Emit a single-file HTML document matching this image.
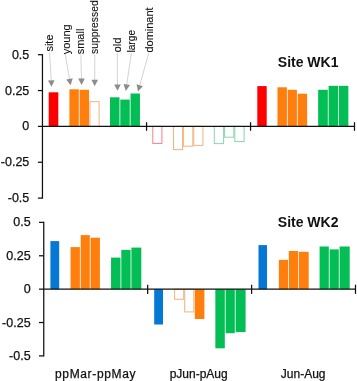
<!DOCTYPE html>
<html><head><meta charset="utf-8"><title>Chart</title>
<style>
html,body{margin:0;padding:0;background:#fff;}
body{width:357px;height:381px;overflow:hidden;}
svg{display:block;will-change:transform;}
text{font-family:"Liberation Sans",sans-serif;fill:#111;stroke:#111;stroke-width:0.25px;}
</style></head><body>
<svg width="357" height="381" viewBox="0 0 357 381">
<rect x="0" y="0" width="357" height="381" fill="#fff"/>
<rect x="48.70" y="92.30" width="9.60" height="34.10" fill="#FF0000"/>
<rect x="69.40" y="89.30" width="9.40" height="37.10" fill="#FF7F0E"/>
<rect x="79.60" y="89.80" width="9.45" height="36.60" fill="#FF7F0E"/>
<rect x="89.95" y="101.70" width="9.15" height="24.70" fill="none" stroke="#EFB47C" stroke-width="1.0"/>
<rect x="110.00" y="97.30" width="9.50" height="29.10" fill="#02BE55"/>
<rect x="120.30" y="99.60" width="9.45" height="26.80" fill="#02BE55"/>
<rect x="130.55" y="93.50" width="9.40" height="32.90" fill="#02BE55"/>
<rect x="152.80" y="126.40" width="9.10" height="17.00" fill="none" stroke="#F47F89" stroke-width="1.0"/>
<rect x="173.50" y="126.40" width="9.10" height="23.20" fill="none" stroke="#EFB47C" stroke-width="1.0"/>
<rect x="183.60" y="126.40" width="9.20" height="19.80" fill="none" stroke="#EFB47C" stroke-width="1.0"/>
<rect x="193.80" y="126.40" width="9.10" height="19.00" fill="none" stroke="#EFB47C" stroke-width="1.0"/>
<rect x="214.30" y="126.40" width="9.30" height="17.20" fill="none" stroke="#86D8AE" stroke-width="1.0"/>
<rect x="224.60" y="126.40" width="9.20" height="10.80" fill="none" stroke="#86D8AE" stroke-width="1.0"/>
<rect x="234.80" y="126.40" width="9.30" height="15.20" fill="none" stroke="#86D8AE" stroke-width="1.0"/>
<rect x="257.30" y="86.10" width="9.40" height="40.30" fill="#FF0000"/>
<rect x="277.45" y="87.30" width="9.45" height="39.10" fill="#FF7F0E"/>
<rect x="287.70" y="89.80" width="9.20" height="36.60" fill="#FF7F0E"/>
<rect x="297.70" y="93.70" width="9.45" height="32.70" fill="#FF7F0E"/>
<rect x="318.15" y="89.80" width="9.65" height="36.60" fill="#02BE55"/>
<rect x="328.60" y="85.80" width="9.40" height="40.60" fill="#02BE55"/>
<rect x="338.80" y="85.80" width="9.55" height="40.60" fill="#02BE55"/>
<line x1="37.90" y1="54.70" x2="42.45" y2="54.70" stroke="#111" stroke-width="1.25" stroke-linecap="butt"/>
<line x1="37.90" y1="90.55" x2="42.45" y2="90.55" stroke="#111" stroke-width="1.25" stroke-linecap="butt"/>
<line x1="37.90" y1="126.40" x2="42.45" y2="126.40" stroke="#111" stroke-width="1.25" stroke-linecap="butt"/>
<line x1="37.90" y1="162.25" x2="42.45" y2="162.25" stroke="#111" stroke-width="1.25" stroke-linecap="butt"/>
<line x1="37.90" y1="198.10" x2="42.45" y2="198.10" stroke="#111" stroke-width="1.25" stroke-linecap="butt"/>
<line x1="42.45" y1="54.10" x2="42.45" y2="198.70" stroke="#111" stroke-width="1.25" stroke-linecap="butt"/>
<line x1="42.45" y1="126.40" x2="354.50" y2="126.40" stroke="#111" stroke-width="1.25" stroke-linecap="butt"/>
<line x1="146.55" y1="122.20" x2="146.55" y2="130.80" stroke="#111" stroke-width="1.25" stroke-linecap="butt"/>
<line x1="250.55" y1="122.20" x2="250.55" y2="130.80" stroke="#111" stroke-width="1.25" stroke-linecap="butt"/>
<line x1="354.50" y1="122.20" x2="354.50" y2="130.80" stroke="#111" stroke-width="1.25" stroke-linecap="butt"/>
<text x="29.30" y="58.70" font-size="12.5" text-anchor="end" font-weight="normal" >0.5</text>
<text x="29.30" y="94.55" font-size="12.5" text-anchor="end" font-weight="normal" >0.25</text>
<text x="29.30" y="130.40" font-size="12.5" text-anchor="end" font-weight="normal" >0</text>
<text x="29.30" y="166.25" font-size="12.5" text-anchor="end" font-weight="normal" >-0.25</text>
<text x="29.30" y="202.10" font-size="12.5" text-anchor="end" font-weight="normal" >-0.5</text>
<text x="277.80" y="66.60" font-size="14" text-anchor="start" font-weight="bold" style="stroke-width:0">Site WK1</text>
<line x1="49.60" y1="52.30" x2="51.26" y2="80.91" stroke="#C4C4C4" stroke-width="0.75" stroke-linecap="butt"/>
<polygon points="51.60,86.80 47.94,80.60 54.52,80.22" fill="#8C8C8C"/>
<line x1="65.20" y1="54.00" x2="69.59" y2="79.39" stroke="#C4C4C4" stroke-width="0.75" stroke-linecap="butt"/>
<polygon points="70.60,85.20 66.26,79.46 72.76,78.33" fill="#8C8C8C"/>
<line x1="80.90" y1="54.50" x2="81.46" y2="79.00" stroke="#C4C4C4" stroke-width="0.75" stroke-linecap="butt"/>
<polygon points="81.60,84.90 78.15,78.58 84.75,78.43" fill="#8C8C8C"/>
<line x1="94.80" y1="54.50" x2="94.72" y2="80.30" stroke="#C4C4C4" stroke-width="0.75" stroke-linecap="butt"/>
<polygon points="94.70,86.20 91.42,79.79 98.02,79.81" fill="#8C8C8C"/>
<line x1="117.30" y1="52.80" x2="117.47" y2="84.90" stroke="#C4C4C4" stroke-width="0.75" stroke-linecap="butt"/>
<polygon points="117.50,90.80 114.17,84.42 120.77,84.38" fill="#8C8C8C"/>
<line x1="131.40" y1="52.80" x2="126.66" y2="85.06" stroke="#C4C4C4" stroke-width="0.75" stroke-linecap="butt"/>
<polygon points="125.80,90.90 123.47,84.09 130.00,85.05" fill="#8C8C8C"/>
<line x1="148.90" y1="52.60" x2="139.60" y2="85.72" stroke="#C4C4C4" stroke-width="0.75" stroke-linecap="butt"/>
<polygon points="138.00,91.40 136.55,84.35 142.91,86.13" fill="#8C8C8C"/>
<text x="0" y="0" font-size="11" style="stroke-width:0.1px" transform="translate(53.20,51.60) rotate(-90)">site</text>
<text x="0" y="0" font-size="11" style="stroke-width:0.1px" transform="translate(69.90,54.30) rotate(-90)">young</text>
<text x="0" y="0" font-size="11" style="stroke-width:0.1px" transform="translate(84.20,54.30) rotate(-90)">small</text>
<text x="0" y="0" font-size="10.4" style="stroke-width:0.1px" transform="translate(97.50,54.00) rotate(-90)">suppressed</text>
<text x="0" y="0" font-size="11.3" style="stroke-width:0.1px" transform="translate(121.30,52.50) rotate(-90)">old</text>
<text x="0" y="0" font-size="10.2" style="stroke-width:0.1px" transform="translate(134.60,52.60) rotate(-90)">large</text>
<text x="0" y="0" font-size="11" style="stroke-width:0.1px" transform="translate(153.10,52.60) rotate(-90)">dominant</text>
<rect x="50.40" y="241.10" width="8.80" height="48.10" fill="#0577D5"/>
<rect x="70.55" y="247.10" width="9.35" height="42.10" fill="#FF7F0E"/>
<rect x="80.70" y="235.10" width="9.10" height="54.10" fill="#FF7F0E"/>
<rect x="90.60" y="237.70" width="9.30" height="51.50" fill="#FF7F0E"/>
<rect x="111.05" y="257.60" width="9.45" height="31.60" fill="#02BE55"/>
<rect x="121.30" y="249.90" width="9.30" height="39.30" fill="#02BE55"/>
<rect x="131.40" y="247.60" width="9.90" height="41.60" fill="#02BE55"/>
<rect x="154.20" y="289.20" width="8.80" height="35.30" fill="#0577D5"/>
<rect x="174.60" y="289.20" width="9.10" height="10.10" fill="none" stroke="#EFB47C" stroke-width="1.0"/>
<rect x="184.70" y="289.20" width="9.10" height="22.70" fill="none" stroke="#EFB47C" stroke-width="1.0"/>
<rect x="194.80" y="289.20" width="9.60" height="29.80" fill="#FF7F0E"/>
<rect x="215.35" y="289.20" width="9.45" height="59.10" fill="#02BE55"/>
<rect x="225.60" y="289.20" width="9.20" height="44.00" fill="#02BE55"/>
<rect x="235.60" y="289.20" width="10.00" height="42.80" fill="#02BE55"/>
<rect x="258.50" y="245.10" width="8.50" height="44.10" fill="#0577D5"/>
<rect x="278.85" y="259.90" width="9.15" height="29.30" fill="#FF7F0E"/>
<rect x="288.80" y="251.00" width="9.30" height="38.20" fill="#FF7F0E"/>
<rect x="298.90" y="251.80" width="9.80" height="37.40" fill="#FF7F0E"/>
<rect x="319.60" y="246.50" width="9.20" height="42.70" fill="#02BE55"/>
<rect x="329.60" y="249.40" width="9.20" height="39.80" fill="#02BE55"/>
<rect x="339.60" y="246.50" width="10.10" height="42.70" fill="#02BE55"/>
<line x1="39.00" y1="222.40" x2="43.75" y2="222.40" stroke="#111" stroke-width="1.25" stroke-linecap="butt"/>
<line x1="39.00" y1="255.78" x2="43.75" y2="255.78" stroke="#111" stroke-width="1.25" stroke-linecap="butt"/>
<line x1="39.00" y1="289.15" x2="43.75" y2="289.15" stroke="#111" stroke-width="1.25" stroke-linecap="butt"/>
<line x1="39.00" y1="322.53" x2="43.75" y2="322.53" stroke="#111" stroke-width="1.25" stroke-linecap="butt"/>
<line x1="39.00" y1="355.90" x2="43.75" y2="355.90" stroke="#111" stroke-width="1.25" stroke-linecap="butt"/>
<line x1="43.75" y1="221.80" x2="43.75" y2="356.50" stroke="#111" stroke-width="1.25" stroke-linecap="butt"/>
<line x1="43.75" y1="289.20" x2="355.50" y2="289.20" stroke="#111" stroke-width="1.25" stroke-linecap="butt"/>
<line x1="147.65" y1="284.70" x2="147.65" y2="293.90" stroke="#111" stroke-width="1.25" stroke-linecap="butt"/>
<line x1="251.60" y1="284.70" x2="251.60" y2="293.90" stroke="#111" stroke-width="1.25" stroke-linecap="butt"/>
<line x1="355.50" y1="284.70" x2="355.50" y2="293.90" stroke="#111" stroke-width="1.25" stroke-linecap="butt"/>
<text x="30.60" y="226.40" font-size="12.5" text-anchor="end" font-weight="normal" >0.5</text>
<text x="30.60" y="259.78" font-size="12.5" text-anchor="end" font-weight="normal" >0.25</text>
<text x="30.60" y="293.15" font-size="12.5" text-anchor="end" font-weight="normal" >0</text>
<text x="30.60" y="326.53" font-size="12.5" text-anchor="end" font-weight="normal" >-0.25</text>
<text x="30.60" y="359.90" font-size="12.5" text-anchor="end" font-weight="normal" >-0.5</text>
<text x="277.80" y="226.80" font-size="14" text-anchor="start" font-weight="bold" style="stroke-width:0">Site WK2</text>
<text x="95.60" y="378.20" font-size="12" text-anchor="middle" font-weight="normal" letter-spacing="0.65">ppMar-ppMay</text>
<text x="198.70" y="378.20" font-size="12" text-anchor="middle" font-weight="normal" >pJun-pAug</text>
<text x="303.20" y="378.20" font-size="12" text-anchor="middle" font-weight="normal" >Jun-Aug</text>
</svg>
</body></html>
